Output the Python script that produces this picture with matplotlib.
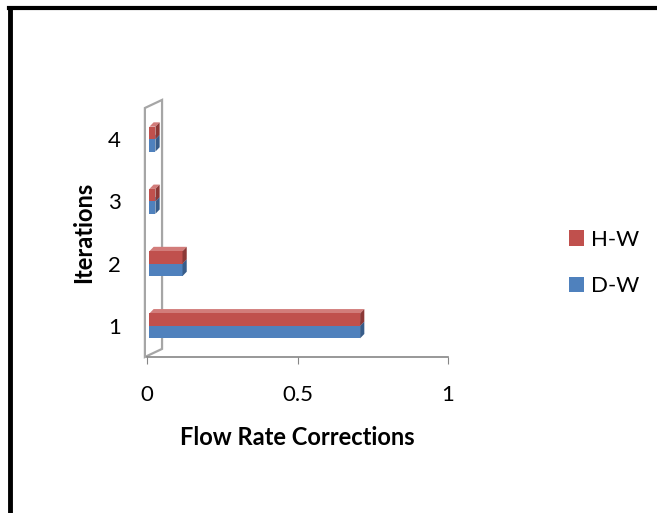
import numpy as np
import matplotlib.pyplot as plt
from matplotlib.patches import Polygon, Patch
from matplotlib.lines import Line2D

# data
iterations = [1, 2, 3, 4]
hw_values = [0.70, 0.11, 0.02, 0.02]
dw_values = [0.70, 0.11, 0.02, 0.02]
x_ticks = [0, 0.5, 1]
x_tick_labels = ["0", "0.5", "1"]

RED = "#C0504D"
BLUE = "#4F81BD"
RED_DARK = "#8C3836"
BLUE_DARK = "#385D8A"
RED_TOP = "#D27C7A"
BLUE_TOP = "#7EA1CF"

plt.rcParams['font.family'] = ['Lato', 'DejaVu Sans']

fig = plt.figure(figsize=(6.57, 5.13), dpi=100)
ax = fig.add_axes([147/657, 1-357/513, 301/657, 249/513])

bh = 0.2
dx, dy = 0.014, 0.07  # fake 3d depth

def bar3d(y, w, color, side, top):
    ax.barh(y, w, height=bh, left=0.008, color=color, edgecolor='none', zorder=3)
    x0, x1 = 0.008, 0.008 + w
    y0, y1 = y - bh/2, y + bh/2
    ax.add_patch(Polygon([(x1, y0), (x1+dx, y0+dy), (x1+dx, y1+dy), (x1, y1)],
                         closed=True, facecolor=side, edgecolor='none', zorder=3))
    ax.add_patch(Polygon([(x0, y1), (x1, y1), (x1+dx, y1+dy), (x0+dx, y1+dy)],
                         closed=True, facecolor=top, edgecolor='none', zorder=2))

for i, y in enumerate(iterations):
    bar3d(y - bh/2, dw_values[i], BLUE, BLUE_DARK, BLUE_TOP)
    bar3d(y + bh/2, hw_values[i], RED, RED_DARK, RED_TOP)

ax.set_xlim(0, 1)
ax.set_ylim(0.5, 4.5)

# back wall outline
wall = [(-0.007, 0.5), (-0.007, 4.5), (0.05, 4.63), (0.05, 0.63)]
ax.add_patch(Polygon(wall, closed=True, fill=False, edgecolor='#A6A6A6',
                     linewidth=1.6, clip_on=False, zorder=1))

for s in ['top', 'right', 'left']:
    ax.spines[s].set_visible(False)
ax.spines['bottom'].set_color('#868686')
ax.spines['bottom'].set_linewidth(1.2)

ax.set_xticks(x_ticks)
ax.set_xticklabels(x_tick_labels, fontsize=16)
ax.set_yticks(iterations)
ax.set_yticklabels([str(v) for v in iterations], fontsize=16)
ax.tick_params(axis='x', length=5, color='#868686', pad=15)
ax.tick_params(axis='y', length=0, pad=19)

ax.set_xlabel("Flow Rate Corrections", fontsize=17, fontweight='bold', labelpad=15)
ax.set_ylabel("Iterations", fontsize=17, fontweight='bold', labelpad=9)

handles = [Patch(facecolor=RED, edgecolor='none', label='H-W'),
           Patch(facecolor=BLUE, edgecolor='none', label='D-W')]
fig.legend(handles=handles, loc='center left', bbox_to_anchor=(549/657, 1-263/513),
           frameon=False, fontsize=16, handlelength=0.68, handleheight=0.68,
           handletextpad=0.3, labelspacing=1.2)

# outer border on top and left
fig.add_artist(Line2D([9/657, 1], [1-8/513, 1-8/513], color='black', linewidth=3,
                      transform=fig.transFigure))
fig.add_artist(Line2D([10/657, 10/657], [0, 1-8/513], color='black', linewidth=3.5,
                      transform=fig.transFigure))

fig.savefig("out.png", dpi=100)
